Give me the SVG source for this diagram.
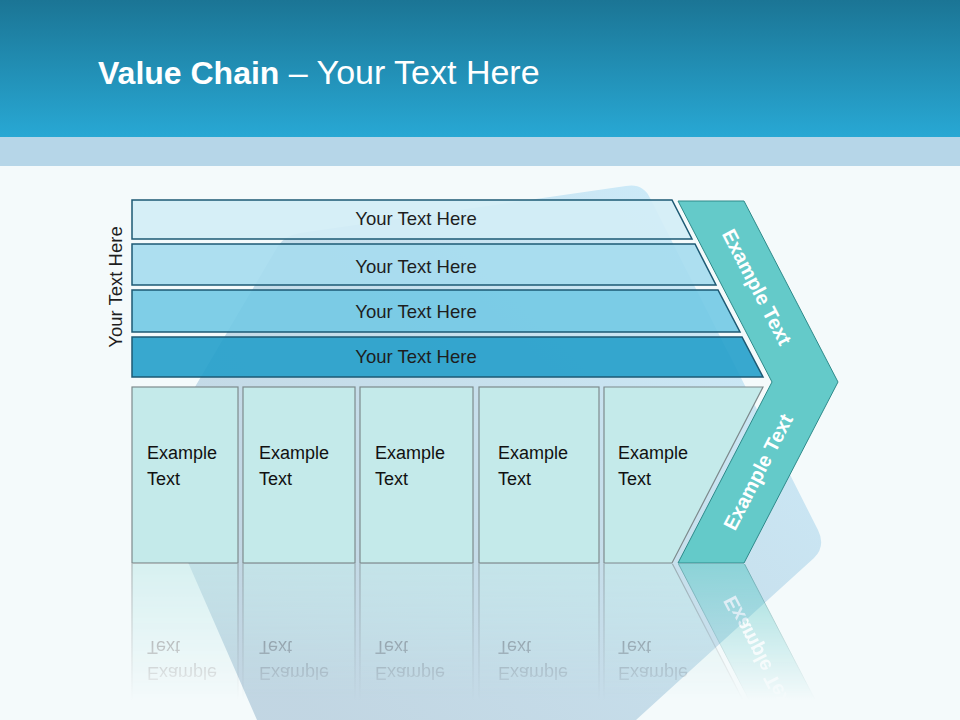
<svg xmlns="http://www.w3.org/2000/svg" xmlns:xlink="http://www.w3.org/1999/xlink" width="960" height="720" viewBox="0 0 960 720">
<style>
.bar{stroke:#1d5a74;stroke-width:1.5;fill-opacity:0.9}
.bt{font-family:"Liberation Sans",Arial,sans-serif;font-size:18.5px;fill:#1e1e1e;text-anchor:middle}
.box{fill:#c4eaea;stroke:#7d8a8c;stroke-width:1.2}
.xt{font-family:"Liberation Sans",Arial,sans-serif;font-size:18px;fill:#111}
.ct{font-family:"Liberation Sans",Arial,sans-serif;font-size:20px;font-weight:bold;fill:#ffffff;text-anchor:middle}
.chev{fill:#64cac9;stroke:#2e8a8a;stroke-width:1}
</style>
<defs>
<linearGradient id="hdr" x1="0" y1="0" x2="0" y2="1">
<stop offset="0" stop-color="#1b7595"/>
<stop offset="1" stop-color="#28a8d4"/>
</linearGradient>
<linearGradient id="shp" gradientUnits="userSpaceOnUse" x1="760" y1="220" x2="300" y2="700">
<stop offset="0" stop-color="#c8eafa"/>
<stop offset="0.5" stop-color="#c2dcea"/>
<stop offset="1" stop-color="#bcd2e0"/>
</linearGradient>
<linearGradient id="fade" gradientUnits="userSpaceOnUse" x1="0" y1="563" x2="0" y2="700">
<stop offset="0" stop-color="#fff" stop-opacity="0.6"/>
<stop offset="1" stop-color="#fff" stop-opacity="0"/>
</linearGradient>
<mask id="refl" maskUnits="userSpaceOnUse" x="0" y="563" width="960" height="157">
<rect x="0" y="564" width="960" height="156" fill="url(#fade)"/>
</mask>
</defs>

<rect x="0" y="0" width="960" height="720" fill="#f4fafb"/>
<rect x="0" y="0" width="960" height="137" fill="url(#hdr)"/>
<rect x="0" y="137" width="960" height="29" fill="#b6d6e8"/>

<path id="bgshape" d="M300,233 L626,186 Q643,183 650,198 L818,530 Q826,546 814,558 L636,720 L257,720 L152,480 Q147,470 152,460 L278,246 Q284,236 300,233 Z" fill="url(#shp)" opacity="0.9"/>

<text x="98" y="84" font-family="'Liberation Sans',Arial,sans-serif" font-size="32" fill="#ffffff"><tspan font-weight="bold">Value Chain</tspan><tspan font-size="34"> – Your Text Here</tspan></text>

<g id="side-label">
<text class="bt" transform="translate(122,287) rotate(-90)" font-size="19">Your Text Here</text>
</g>

<g id="bars">
<g id="bar1"><path class="bar" d="M132,200 H672 L692,239 H132 Z" fill="#d3edf6"/><text class="bt" x="416" y="225">Your Text Here</text></g>
<g id="bar2"><path class="bar" d="M132,244 H695 L716,285 H132 Z" fill="#a5dbee"/><text class="bt" x="416" y="273">Your Text Here</text></g>
<g id="bar3"><path class="bar" d="M132,290 H718 L740,332 H132 Z" fill="#72c9e4"/><text class="bt" x="416" y="318">Your Text Here</text></g>
<g id="bar4"><path class="bar" d="M132,337 H742 L763,377 H132 Z" fill="#239fca" fill-opacity="1"/><text class="bt" x="416" y="363">Your Text Here</text></g>
</g>

<g id="chevron">
<path class="chev" d="M678,201 H744 L838,382 L744,563 H678 L772,382 Z"/>
<text class="ct" transform="translate(757,287) rotate(62.6)" dy="7">Example Text</text>
<text class="ct" transform="translate(758,472) rotate(-62.6)" dy="7">Example Text</text>
</g>

<g id="boxes">
<g id="box1"><rect class="box" x="132" y="387" width="106" height="176"/><text class="xt" x="147" y="459">Example</text><text class="xt" x="147" y="485">Text</text></g>
<g id="box2"><rect class="box" x="243" y="387" width="112" height="176"/><text class="xt" x="259" y="459">Example</text><text class="xt" x="259" y="485">Text</text></g>
<g id="box3"><rect class="box" x="360" y="387" width="113" height="176"/><text class="xt" x="375" y="459">Example</text><text class="xt" x="375" y="485">Text</text></g>
<g id="box4"><rect class="box" x="479" y="387" width="120" height="176"/><text class="xt" x="498" y="459">Example</text><text class="xt" x="498" y="485">Text</text></g>
<g id="box5"><path class="box" d="M604,387 H763 L672,563 H604 Z"/><text class="xt" x="618" y="459">Example</text><text class="xt" x="618" y="485">Text</text></g>
</g>

<g id="connectors"></g>

<g id="reflection" mask="url(#refl)">
<use xlink:href="#boxes" href="#boxes" transform="translate(0,1126) scale(1,-1)"/>
<use xlink:href="#chevron" href="#chevron" transform="translate(0,1126) scale(1,-1)"/>
</g>
</svg>
